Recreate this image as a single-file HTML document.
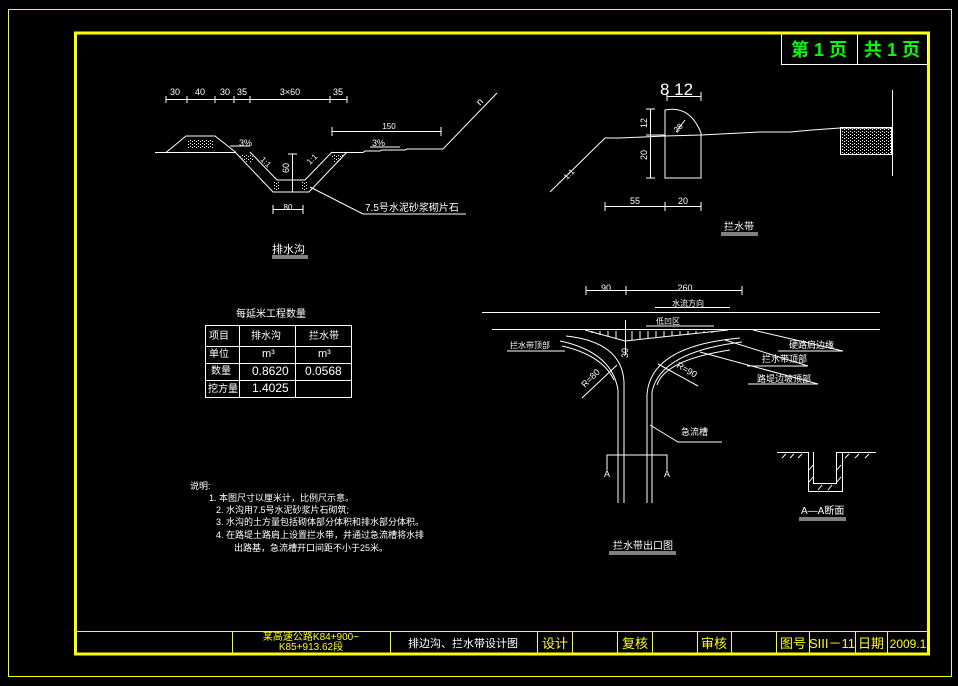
<!DOCTYPE html>
<html><head><meta charset="utf-8"><style>
html,body{margin:0;padding:0;background:#000;}
svg{display:block;}
text{font-family:"Liberation Sans","WenQuanYi Zen Hei","Noto Sans CJK SC",sans-serif;fill:#fff;}
</style></head><body>
<svg width="958" height="686" viewBox="0 0 958 686" xmlns="http://www.w3.org/2000/svg">
<defs>
<pattern id="dots" width="4" height="3" patternUnits="userSpaceOnUse">
<rect x="0" y="0" width="1" height="1" fill="#fff"/><rect x="2" y="2" width="1" height="1" fill="#fff"/>
</pattern>
</defs>
<rect width="958" height="686" fill="#000"/>
<rect x="8.5" y="9.5" width="943" height="667" fill="none" stroke="#ff0" stroke-width="1"/>
<rect x="75.5" y="33" width="853" height="621" fill="none" stroke="#ff0" stroke-width="3"/>
<line x1="75" y1="631.5" x2="929" y2="631.5" stroke="#ff0"/>
<g stroke="#ff0" stroke-width="1">
<line x1="232.5" y1="631" x2="232.5" y2="654"/>
<line x1="390.5" y1="631" x2="390.5" y2="654"/>
<line x1="537.5" y1="631" x2="537.5" y2="654"/>
<line x1="572.5" y1="631" x2="572.5" y2="654"/>
<line x1="617.5" y1="631" x2="617.5" y2="654"/>
<line x1="652.5" y1="631" x2="652.5" y2="654"/>
<line x1="697.5" y1="631" x2="697.5" y2="654"/>
<line x1="731.5" y1="631" x2="731.5" y2="654"/>
<line x1="776.5" y1="631" x2="776.5" y2="654"/>
<line x1="809.5" y1="631" x2="809.5" y2="654"/>
<line x1="855.5" y1="631" x2="855.5" y2="654"/>
<line x1="887.5" y1="631" x2="887.5" y2="654"/>
</g>
<g font-size="10">
<text x="311" y="640" text-anchor="middle" style="fill:#ff0">某高速公路K84+900~</text>
<text x="311" y="650" text-anchor="middle" style="fill:#ff0">K85+913.62段</text>
</g>
<text x="463" y="647" font-size="11" text-anchor="middle">排边沟、拦水带设计图</text>
<g font-size="13" text-anchor="middle">
<text x="555" y="648" style="fill:#ff0">设计</text>
<text x="635" y="648" style="fill:#ff0">复核</text>
<text x="714" y="648" style="fill:#ff0">审核</text>
<text x="793" y="648" style="fill:#ff0">图号</text>
<text x="832" y="648" style="fill:#ff0">SIII－11</text>
<text x="871" y="648" style="fill:#ff0">日期</text>
<text x="908" y="648" style="fill:#ff0" font-size="12">2009.1</text>
</g>
<rect x="781.5" y="33.5" width="146" height="31" fill="none" stroke="#fff"/>
<line x1="857.5" y1="33" x2="857.5" y2="65" stroke="#fff"/>
<text x="819" y="56" font-size="18" font-weight="bold" text-anchor="middle" style="fill:#0f0">第 1 页</text>
<text x="892" y="56" font-size="18" font-weight="bold" text-anchor="middle" style="fill:#0f0">共 1 页</text>

<g fill="url(#dots)">
<rect x="188" y="139" width="26" height="10"/>
<path d="M238,154H252L254,162L246,162Z"/><path d="M330,154H345L340,162L334,162Z"/>
<rect x="273" y="182" width="6" height="9"/><rect x="302" y="182" width="6" height="9"/>
<rect x="841" y="128" width="50" height="26"/>
</g>

<g stroke="#fff" stroke-width="1" fill="none">
<line x1="166" y1="99.5" x2="347" y2="99.5"/>
<path d="M166,96v7M187,96v7M215,96v7M234,96v7M250,96v7M330,96v7M347,96v7"/>
<path d="M155,152.5H236M166,152.5L186,136H215L236,152.5"/>
<path d="M235,152L273,192H309L347,152"/>
<path d="M250,152L277,180H305L332,152"/>
<path d="M332,152.5H363L365,151H380L382,150H405L407,149H443L497,93"/>
<line x1="332" y1="131.5" x2="441" y2="131.5"/>
<path d="M332,127v9M441,127v9"/>
<path d="M230,146H250M370,147H400"/>
<line x1="292.5" y1="154" x2="292.5" y2="192"/>
<path d="M288,154h9"/>
<line x1="273" y1="209.5" x2="303" y2="209.5"/>
<path d="M273,205v9M303,205v9"/>
<path d="M310,187L363,214H466"/>
<path d="M272,256H308M272,258H308"/>
<path d="M550,192L605,138H620L665,136L701,135L760,132H790L812,130L840,128H892"/>
<path d="M665,178V110Q690,105 701,133V178H665Z"/>
<path d="M685,120L676,132"/>
<rect x="840.5" y="127.5" width="51" height="27"/>
<line x1="892.5" y1="90" x2="892.5" y2="176"/>
<line x1="667" y1="96.5" x2="701" y2="96.5"/>
<path d="M667,92v9M701,92v9"/>
<line x1="650.5" y1="109" x2="650.5" y2="178"/>
<path d="M646,109h9M646,178h9M646,135h19"/>
<line x1="605" y1="206.5" x2="701" y2="206.5"/>
<path d="M605,202v9M665,202v9M701,202v9"/>
<path d="M721,233H758M721,235H758"/>
<line x1="586" y1="290.5" x2="742" y2="290.5"/>
<path d="M586,286v9M626,286v9M742,286v9"/>
<line x1="482" y1="312.5" x2="880" y2="312.5"/>
<line x1="655" y1="307.5" x2="730" y2="307.5"/>
<line x1="492" y1="329.5" x2="880" y2="329.5"/>
<path d="M585,330L625,341L728,330"/>
<path d="M592,331v2M600,331v4M608,331v6M616,331v8M632,331v9M640,331v8M648,331v7M656,331v6M664,331v6M672,331v5M680,331v4M688,331v4M696,331v3M704,331v2M712,331v2"/>
<path d="M646,326H714"/>
<line x1="625.5" y1="320" x2="625.5" y2="355"/>
<path d="M560,341Q612,352 618,390V503"/>
<path d="M566,336Q622,342 624,382V503"/>
<path d="M562,346Q602,355 614,380"/>
<path d="M647,503V395Q650,346 740,338"/>
<path d="M652,503V392Q660,352 742,342"/>
<path d="M657,385Q665,360 730,350"/>
<path d="M507,351H565M778,351H843L753,330M747,366H808L725,340M748,384H818L700,352"/>
<path d="M582,398L617,365M658,364L698,386"/>
<path d="M650,425L678,442H722"/>
<path d="M607,470V455H667V470"/>
<path d="M777,452.5H808M836,452.5H876"/>
<path d="M808.5,452V491.5H842.5V452M813.5,452V483.5H836.5V452"/>
<path d="M782,458l4,-4M790,458l4,-4M798,458l4,-4M845,458l4,-4M855,458l4,-4M865,458l4,-4"/>
<path d="M809,470l4,-5M809,482l4,-5M837,470l4,-5M837,482l4,-5M818,490l4,-5M828,490l4,-5"/>
<path d="M799,518H846M799,520H846"/>
<path d="M609,552H676M609,554H676"/>
<rect x="205.5" y="325.5" width="146" height="72"/>
<path d="M239.5,325V398M295.5,325V398M205,346.5H352M205,363.5H352M205,380.5H352"/>
</g>
<g font-size="9">
<text x="175" y="95" text-anchor="middle">30</text><text x="200" y="95" text-anchor="middle">40</text>
<text x="225" y="95" text-anchor="middle">30</text><text x="242" y="95" text-anchor="middle">35</text>
<text x="290" y="95" text-anchor="middle">3×60</text><text x="338" y="95" text-anchor="middle">35</text>
<text x="389" y="129" text-anchor="middle" font-size="8">150</text>
<text x="239" y="146">3%</text><text x="372" y="146">3%</text>
<text x="288" y="210" text-anchor="middle" font-size="8">80</text>
<text x="0" y="0" transform="translate(289,173) rotate(-90)">60</text>
<text x="0" y="0" transform="translate(260,160) rotate(45)" font-size="8">1:1</text>
<text x="0" y="0" transform="translate(310,165) rotate(-45)" font-size="8">1:1</text>
<text x="0" y="0" transform="translate(480,106) rotate(-45)" font-size="10">n</text>
<text x="365" y="211" font-size="10">7.5号水泥砂浆砌片石</text>
<text x="272" y="253" font-size="11">排水沟</text>
<text x="0" y="0" transform="translate(647,128) rotate(-90)">12</text>
<text x="0" y="0" transform="translate(647,160) rotate(-90)">20</text>
<text x="0" y="0" transform="translate(677,133) rotate(-45)" font-size="8">28</text>
<text x="0" y="0" transform="translate(567,180) rotate(-45)" font-size="8">1:1</text>
<text x="635" y="204" text-anchor="middle">55</text><text x="683" y="204" text-anchor="middle">20</text>
<text x="724" y="230" font-size="10">拦水带</text>
<text x="606" y="291" text-anchor="middle">90</text><text x="685" y="291" text-anchor="middle">260</text>
<text x="672" y="306" font-size="8">水流方向</text>
<text x="656" y="324" font-size="8">低凹区</text>
<text x="0" y="0" transform="translate(628,358) rotate(-90)">30</text>
<text x="510" y="348" font-size="8">拦水带顶部</text>
<text x="789" y="348" font-size="9">硬路肩边缘</text>
<text x="762" y="362" font-size="9">拦水带顶部</text>
<text x="757" y="382" font-size="9">路堤边坡顶部</text>
<text x="0" y="0" transform="translate(585,388) rotate(-45)">R=80</text>
<text x="0" y="0" transform="translate(676,367) rotate(30)">R=90</text>
<text x="681" y="435" font-size="9">急流槽</text>
<text x="604" y="477">A</text><text x="664" y="477">A</text>
<text x="801" y="514" font-size="10">A—A断面</text>
<text x="613" y="549" font-size="10">拦水带出口图</text>
</g>
<text x="660" y="95" font-size="17">8 12</text>
<g font-size="10">
<text x="236" y="317">每延米工程数量</text>
<text x="209" y="339">项目</text><text x="251" y="339">排水沟</text><text x="309" y="339">拦水带</text>
<text x="209" y="357">单位</text><text x="262" y="357" font-size="11">m³</text><text x="318" y="357" font-size="11">m³</text>
<text x="211" y="374">数量</text><text x="252" y="375" font-size="12">0.8620</text><text x="305" y="375" font-size="12">0.0568</text>
<text x="208" y="392">挖方量</text><text x="252" y="392" font-size="12">1.4025</text>
<text x="190" y="489" font-size="9">说明:</text>
<text x="209" y="501" font-size="9">1.  本图尺寸以厘米计，比例尺示意。</text>
<text x="216" y="513" font-size="9">2.  水沟用7.5号水泥砂浆片石砌筑;</text>
<text x="216" y="525" font-size="9">3.  水沟的土方量包括砌体部分体积和排水部分体积。</text>
<text x="216" y="538" font-size="9">4.  在路堤土路肩上设置拦水带，并通过急流槽将水排</text>
<text x="234" y="551" font-size="9">出路基，急流槽开口间距不小于25米。</text>
</g>
</svg>
</body></html>
